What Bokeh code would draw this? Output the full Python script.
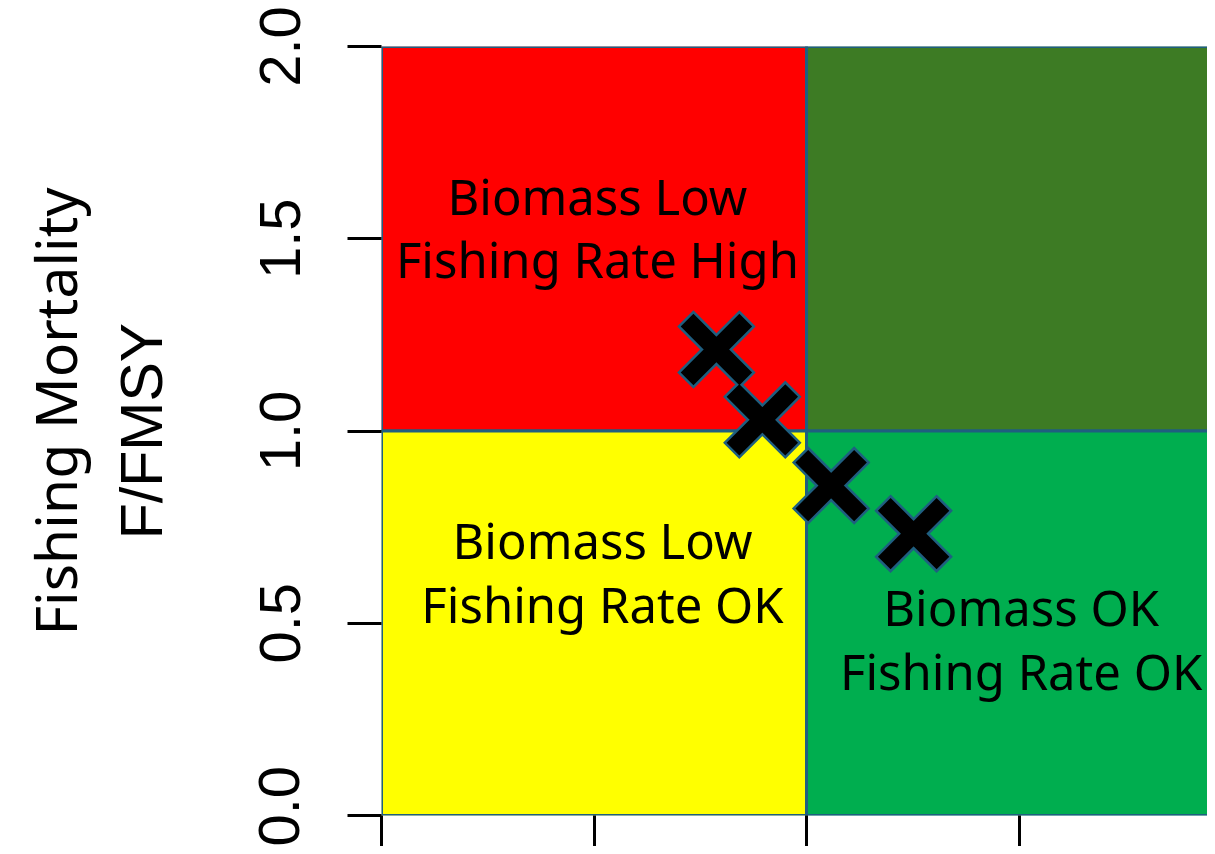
from bokeh.plotting import figure
from bokeh.models import Range1d, FixedTicker, ColumnDataSource, CustomJSTickFormatter, Title
from bokeh.embed import file_html
from bokeh.resources import INLINE
from bokeh.core.properties import value

# Quadrants (B/BMSY on x, F/FMSY on y)
quad_left = [0.0, 1.0, 0.0, 1.0]
quad_right = [1.0, 2.0, 1.0, 2.0]
quad_bottom = [1.0, 1.0, 0.0, 0.0]
quad_top = [2.0, 2.0, 1.0, 1.0]
quad_colors = ["#FF0000", "#3D7B24", "#FFFF00", "#00AE4F"]

# Quadrant labels
label_text = ["Biomass Low\nFishing Rate High", "Biomass Low\nFishing Rate OK", "Biomass OK\nFishing Rate OK"]
label_x = [0.508, 0.52, 1.505]
label_y = [1.529, 0.633, 0.459]

# Stock status points
b_bmsy = [0.788, 0.896, 1.058, 1.252]
f_fmsy = [1.212, 1.029, 0.858, 0.733]

y_ticks = [0.0, 0.5, 1.0, 1.5, 2.0]
y_tick_labels = ["0.0", "0.5", "1.0", "1.5", "2.0"]
x_ticks = [0.0, 0.5, 1.0, 1.5, 2.0]

p = figure(width=1207, height=846, output_backend="svg", toolbar_location=None,
           x_range=Range1d(0, 1.9435), y_range=Range1d(0, 2.0),
           min_border_left=381, min_border_right=0, min_border_top=46, min_border_bottom=31)
p.outline_line_color = None
p.grid.visible = False

p.quad(left=quad_left, right=quad_right, bottom=quad_bottom, top=quad_top,
       fill_color=quad_colors, line_color="#1F5F80", line_width=3)

src = ColumnDataSource(dict(x=label_x, y=label_y, t=label_text))
p.text(x="x", y="y", text="t", source=src, text_align="center", text_baseline="middle",
       text_font=value("Noto Sans"), text_font_size="49px", text_color="black",
       text_line_height=0.96)

p.scatter(b_bmsy, f_fmsy, marker="x", size=88, line_color="#1F5F80", line_width=23)
p.scatter(b_bmsy, f_fmsy, marker="x", size=83, line_color="black", line_width=18)

# y axis
ya = p.yaxis[0]
ya.ticker = FixedTicker(ticks=y_ticks)
ya.major_label_overrides = {t: l for t, l in zip(y_ticks, y_tick_labels)}
ya.major_label_orientation = "vertical"
ya.major_label_text_font = "Liberation Sans"
ya.major_label_text_font_size = "58px"
ya.major_label_text_color = "black"
ya.major_label_standoff = 48
ya.major_tick_out = 34
ya.major_tick_in = 0
ya.major_tick_line_width = 3
ya.major_tick_line_color = "black"
ya.minor_tick_out = 0
ya.minor_tick_in = 0
ya.axis_line_color = None
ya.axis_label = "F/FMSY"
ya.axis_label_text_font = "Liberation Sans"
ya.axis_label_text_font_size = "59px"
ya.axis_label_text_font_style = "normal"
ya.axis_label_text_color = "black"
ya.axis_label_standoff = 82

# outer title line
p.add_layout(Title(text="Fishing Mortality", align="left", offset=180, standoff=24,
                   text_font="Noto Sans", text_font_size="57px",
                   text_font_style="normal", text_color="black"), "left")

# x axis (labels fall outside the picture in the reference)
xa = p.xaxis[0]
xa.ticker = FixedTicker(ticks=x_ticks)
xa.formatter = CustomJSTickFormatter(code="return ''")
xa.major_label_text_font_size = "1px"
xa.major_label_standoff = 0
xa.major_tick_out = 31
xa.major_tick_in = 0
xa.major_tick_line_width = 3
xa.major_tick_line_color = "black"
xa.minor_tick_out = 0
xa.minor_tick_in = 0
xa.axis_line_color = None

open("out.html", "w").write(file_html(p, INLINE))
